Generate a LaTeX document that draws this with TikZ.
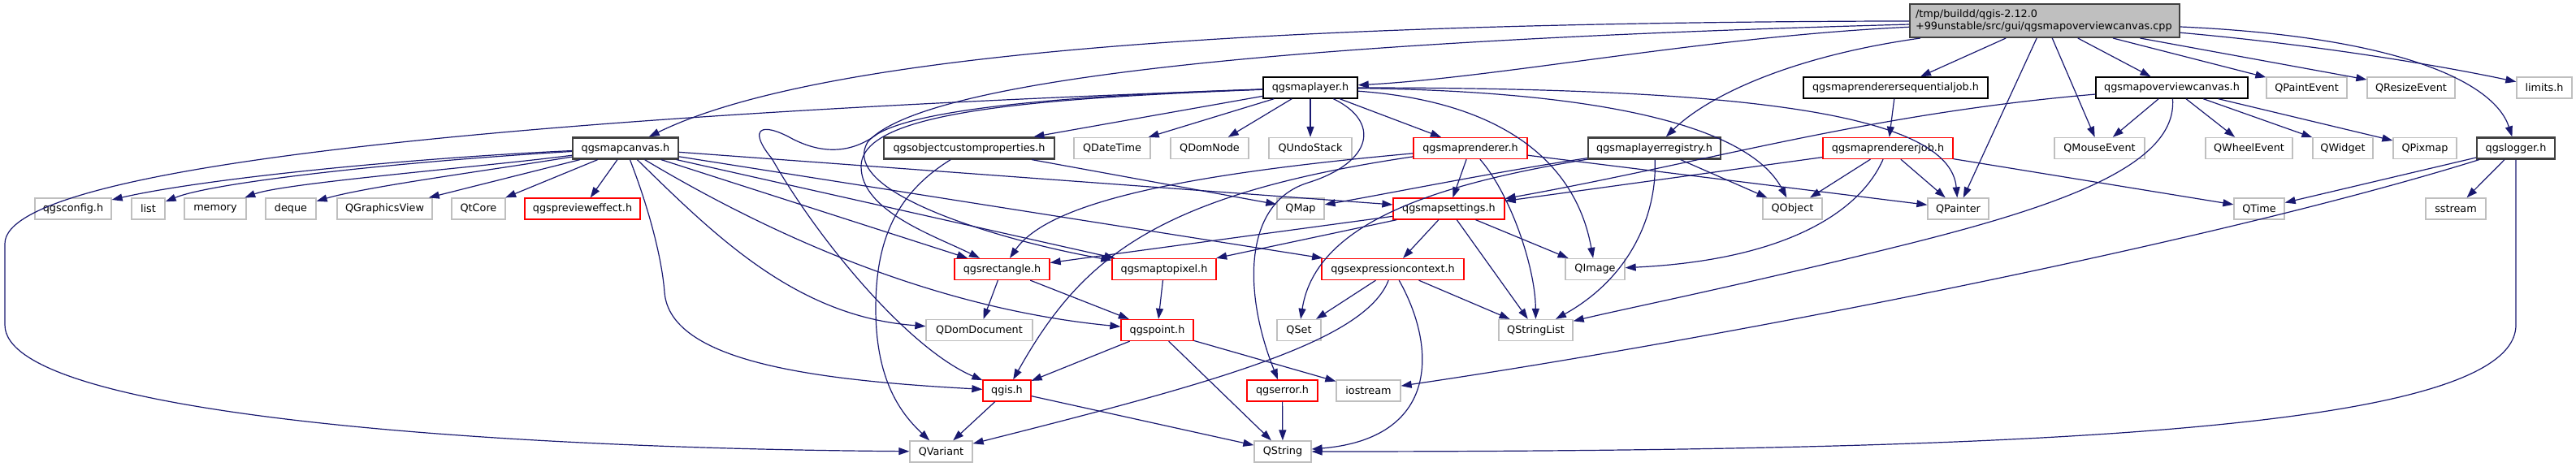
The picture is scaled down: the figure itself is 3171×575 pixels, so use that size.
\documentclass[tikz,border=0pt]{standalone}
\usepackage{fontspec}
\setmainfont{DejaVu Sans}
\usetikzlibrary{arrows.meta}
\definecolor{edgecol}{RGB}{25,25,112}
\definecolor{graybd}{RGB}{191,191,191}
\definecolor{darkbd}{RGB}{64,64,64}
\definecolor{mainfill}{RGB}{191,191,191}
\begin{document}
\begin{tikzpicture}[x=1pt,y=-1pt,
  font=\fontsize{12.8}{15}\selectfont,
  box/.style={rectangle, inner sep=0pt, minimum height=26pt, text=black, fill=white},
  grayb/.style={box, draw=graybd, line width=1.3pt},
  redb/.style={box, draw=red, line width=1.3pt},
  blackb/.style={box, draw=black, line width=1.4pt},
  boldb/.style={box, draw=darkbd, line width=2.2pt},
  mainb/.style={box, draw=darkbd, line width=2pt, fill=mainfill, align=left, minimum height=41pt, text width=318pt},
  edge/.style={draw=edgecol, line width=1.2pt, -{Triangle[length=13pt,width=9pt]}}
]
\useasboundingbox (0,0) rectangle (3171,575);

% ---- nodes
\node[mainb, minimum width=332pt] (main) at (2517,25.5) {/tmp/buildd/qgis-2.12.0\\+99unstable/src/gui/qgsmapoverviewcanvas.cpp};

\node[blackb, minimum width=116pt] (layer) at (1613,108) {qgsmaplayer.h};
\node[blackb, minimum width=227pt] (seqjob) at (2333.5,108) {qgsmaprenderersequentialjob.h};
\node[blackb, minimum width=187pt] (ovcanvas) at (2673.5,108) {qgsmapoverviewcanvas.h};
\node[grayb, minimum width=99pt] (qpaintevent) at (2839.5,108) {QPaintEvent};
\node[grayb, minimum width=108pt] (qresizeevent) at (2968,108) {QResizeEvent};
\node[grayb, minimum width=68pt] (limits) at (3132,108) {limits.h};

\node[boldb, minimum width=130pt] (canvas) at (770,182.5) {qgsmapcanvas.h};
\node[boldb, minimum width=210pt] (objcp) at (1193,182.5) {qgsobjectcustomproperties.h};
\node[grayb, minimum width=94pt] (qdatetime) at (1369,182.5) {QDateTime};
\node[grayb, minimum width=96pt] (qdomnode) at (1489,182.5) {QDomNode};
\node[grayb, minimum width=102pt] (qundostack) at (1613,182.5) {QUndoStack};
\node[redb, minimum width=140pt] (renderer) at (1810,182.5) {qgsmaprenderer.h};
\node[boldb, minimum width=163pt] (registry) at (2036.5,182.5) {qgsmaplayerregistry.h};
\node[redb, minimum width=160pt] (rendererjob) at (2324,182.5) {qgsmaprendererjob.h};
\node[grayb, minimum width=111pt] (qmouseevent) at (2584.5,182.5) {QMouseEvent};
\node[grayb, minimum width=107pt] (qwheelevent) at (2768.5,182.5) {QWheelEvent};
\node[grayb, minimum width=74pt] (qwidget) at (2884,182.5) {QWidget};
\node[grayb, minimum width=78pt] (qpixmap) at (2985,182.5) {QPixmap};
\node[boldb, minimum width=96pt] (logger) at (3097,182.5) {qgslogger.h};

\node[grayb, minimum width=94pt] (config) at (90,257) {qgsconfig.h};
\node[grayb, minimum width=41pt] (list) at (182.5,257) {list};
\node[grayb, minimum width=76pt] (memory) at (265,257) {memory};
\node[grayb, minimum width=62pt] (deque) at (358,257) {deque};
\node[grayb, minimum width=117pt] (qgraphicsview) at (473.5,257) {QGraphicsView};
\node[grayb, minimum width=66pt] (qtcore) at (589,257) {QtCore};
\node[redb, minimum width=142pt] (preview) at (717,257) {qgsprevieweffect.h};
\node[grayb, minimum width=58pt] (qmap) at (1601,257) {QMap};
\node[redb, minimum width=137pt] (settings) at (1783.5,257) {qgsmapsettings.h};
\node[grayb, minimum width=73pt] (qobject) at (2206.5,257) {QObject};
\node[grayb, minimum width=75pt] (qpainter) at (2410.5,257) {QPainter};
\node[grayb, minimum width=62pt] (qtime) at (2781,257) {QTime};
\node[grayb, minimum width=74pt] (sstream) at (3023,257) {sstream};

\node[redb, minimum width=117pt] (rectangle) at (1233.5,331.5) {qgsrectangle.h};
\node[redb, minimum width=128pt] (maptopixel) at (1433,331.5) {qgsmaptopixel.h};
\node[redb, minimum width=175pt] (exprctx) at (1714.5,331.5) {qgsexpressioncontext.h};
\node[grayb, minimum width=73pt] (qimage) at (1963.5,331.5) {QImage};

\node[grayb, minimum width=131pt] (qdomdocument) at (1205.5,406.5) {QDomDocument};
\node[redb, minimum width=89pt] (point) at (1424.5,406.5) {qgspoint.h};
\node[grayb, minimum width=54pt] (qset) at (1599,406.5) {QSet};
\node[grayb, minimum width=91pt] (qstringlist) at (1890.5,406.5) {QStringList};

\node[redb, minimum width=59pt] (qgis) at (1239.5,481) {qgis.h};
\node[redb, minimum width=87pt] (qgserror) at (1578.5,481) {qgserror.h};
\node[grayb, minimum width=79pt] (iostream) at (1684.5,481) {iostream};

\node[grayb, minimum width=77pt] (qvariant) at (1158.5,556) {QVariant};
\node[grayb, minimum width=70pt] (qstring) at (1579,556) {QString};

% helper coordinates
\coordinate (lv1) at (6,300);
\coordinate (lv2) at (6,400);
\coordinate (lp1) at (1080,165);
\coordinate (lp2) at (950,195);
\coordinate (mp1) at (1068,175);
\coordinate (lr1) at (1060,205);
\coordinate (cg1) at (818,360);
\coordinate (oj1) at (1078,380);
\coordinate (og1) at (1610,225);
\coordinate (os1) at (2350,300);
\coordinate (lg1) at (3097,400);

% ---- edges from main
\draw[edge] (main) .. controls (1500,28) and (1000,70) .. (canvas);
\draw[edge] (main) .. controls (2100,45) and (1850,95) .. (layer);
\draw[edge] (main) .. controls (1800,45) and (1150,80) .. (mp1) .. controls (1030,240) and (1250,300) .. (maptopixel);
\draw[edge] (main) .. controls (2200,70) and (2100,120) .. (registry);
\draw[edge] (main) -- (seqjob);
\draw[edge] (main) -- (qpainter);
\draw[edge] (main) -- (qmouseevent);
\draw[edge] (main) -- (ovcanvas);
\draw[edge] (main) -- (qpaintevent);
\draw[edge] (main) -- (qresizeevent);
\draw[edge] (main) .. controls (2850,55) and (3000,80) .. (limits);
\draw[edge] (main) .. controls (2950,45) and (3070,100) .. (logger);

% ---- qgsmaplayer.h
\draw[edge] (layer) -- (objcp);
\draw[edge] (layer) -- (qdatetime);
\draw[edge] (layer) -- (qdomnode);
\draw[edge] (layer) -- (qundostack);
\draw[edge] (layer) -- (renderer);
\draw[edge] (layer) .. controls (700,140) and (6,200) .. (lv1) -- (lv2) .. controls (6,510) and (600,552) .. (qvariant);
\draw[edge] (layer) .. controls (1300,118) and (1130,135) .. (lp1) .. controls (1040,195) and (1000,185) .. (970,168) .. controls (930,148) and (925,165) .. (lp2) .. controls (1010,300) and (1120,430) .. (qgis);
\draw[edge] (layer) .. controls (1250,122) and (1060,140) .. (lr1) .. controls (1060,260) and (1150,290) .. (rectangle);
\draw[edge] (layer) .. controls (1700,150) and (1690,200) .. (og1) .. controls (1530,250) and (1530,360) .. (qgserror);
\draw[edge] (layer) .. controls (1850,125) and (1940,200) .. (qimage);
\draw[edge] (layer) .. controls (1950,112) and (2150,150) .. (qobject);
\draw[edge] (layer) .. controls (2150,108) and (2400,140) .. (qpainter);

% ---- qgsobjectcustomproperties.h
\draw[edge] (objcp) -- (qmap);
\draw[edge] (objcp) .. controls (1100,240) and (1078,300) .. (oj1) .. controls (1078,470) and (1110,510) .. (qvariant);

% ---- qgsmapcanvas.h
\draw[edge] (canvas) .. controls (500,195) and (250,220) .. (config);
\draw[edge] (canvas) .. controls (480,200) and (260,225) .. (list);
\draw[edge] (canvas) .. controls (600,205) and (350,225) .. (memory);
\draw[edge] (canvas) .. controls (600,210) and (450,230) .. (deque);
\draw[edge] (canvas) -- (qgraphicsview);
\draw[edge] (canvas) -- (qtcore);
\draw[edge] (canvas) -- (preview);
\draw[edge] (canvas) .. controls (800,260) and (815,320) .. (cg1) .. controls (825,445) and (1000,468) .. (qgis);
\draw[edge] (canvas) .. controls (880,290) and (980,390) .. (qdomdocument);
\draw[edge] (canvas) -- (rectangle);
\draw[edge] (canvas) .. controls (950,290) and (1150,380) .. (point);
\draw[edge] (canvas) -- (settings);
\draw[edge] (canvas) -- (maptopixel);
\draw[edge] (canvas) -- (exprctx);

% ---- qgsmaprenderer.h
\draw[edge] (renderer) -- (settings);
\draw[edge] (renderer) .. controls (1450,215) and (1290,250) .. (rectangle);
\draw[edge] (renderer) .. controls (1420,240) and (1330,320) .. (qgis);
\draw[edge] (renderer) -- (qpainter);
\draw[edge] (renderer) .. controls (1860,240) and (1890,330) .. (qstringlist);

% ---- qgsmaplayerregistry.h
\draw[edge] (registry) .. controls (1850,210) and (1700,240) .. (qmap);
\draw[edge] (registry) .. controls (1780,225) and (1620,270) .. (qset);
\draw[edge] (registry) -- (qobject);
\draw[edge] (registry) .. controls (2040,260) and (2010,340) .. (qstringlist);

% ---- sequential job
\draw[edge] (seqjob) -- (rendererjob);

% ---- qgsmapoverviewcanvas.h
\draw[edge] (ovcanvas) -- (qmouseevent);
\draw[edge] (ovcanvas) -- (qwheelevent);
\draw[edge] (ovcanvas) -- (qwidget);
\draw[edge] (ovcanvas) -- (qpixmap);
\draw[edge] (ovcanvas) .. controls (2300,140) and (2100,200) .. (settings);
\draw[edge] (ovcanvas) .. controls (2680,200) and (2550,250) .. (os1) .. controls (2150,350) and (2000,380) .. (qstringlist);

% ---- qgsmaprendererjob.h
\draw[edge] (rendererjob) -- (settings);
\draw[edge] (rendererjob) -- (qobject);
\draw[edge] (rendererjob) -- (qpainter);
\draw[edge] (rendererjob) -- (qtime);
\draw[edge] (rendererjob) .. controls (2290,260) and (2200,320) .. (qimage);

% ---- qgslogger.h
\draw[edge] (logger) -- (qtime);
\draw[edge] (logger) -- (sstream);
\draw[edge] (logger) .. controls (2720,300) and (2100,420) .. (iostream);
\draw[edge] (logger) -- (lg1) .. controls (3097,530) and (2500,556) .. (qstring);

% ---- qgsmapsettings.h
\draw[edge] (settings) -- (exprctx);
\draw[edge] (settings) -- (qimage);
\draw[edge] (settings) -- (qstringlist);
\draw[edge] (settings) -- (rectangle);
\draw[edge] (settings) -- (maptopixel);

% ---- lower part
\draw[edge] (rectangle) -- (qdomdocument);
\draw[edge] (rectangle) -- (point);
\draw[edge] (maptopixel) -- (point);
\draw[edge] (exprctx) -- (qset);
\draw[edge] (exprctx) -- (qstringlist);
\draw[edge] (exprctx) .. controls (1680,420) and (1500,470) .. (qvariant);
\draw[edge] (exprctx) .. controls (1770,430) and (1770,540) .. (qstring);
\draw[edge] (point) -- (qgis);
\draw[edge] (point) -- (iostream);
\draw[edge] (point) -- (qstring);
\draw[edge] (qgis) -- (qvariant);
\draw[edge] (qgis) -- (qstring);
\draw[edge] (qgserror) -- (qstring);
\end{tikzpicture}
\end{document}
